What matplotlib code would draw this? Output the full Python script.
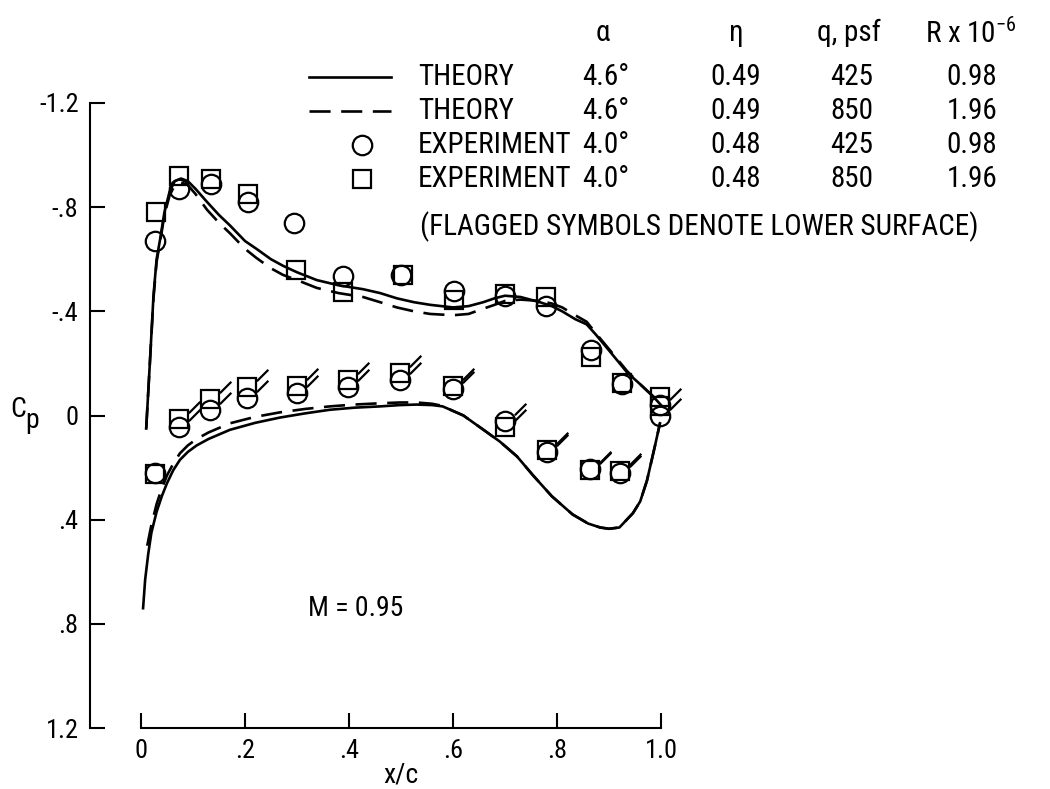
import matplotlib
matplotlib.use("Agg")
import matplotlib.pyplot as plt
from matplotlib import font_manager
from matplotlib.lines import Line2D
from matplotlib.path import Path

# --- dati ---
# teoria, superficie superiore
x_th_up = [0.010, 0.017, 0.024, 0.030, 0.037, 0.045, 0.055, 0.065, 0.077, 0.090, 0.105,
           0.127, 0.150, 0.171, 0.200, 0.222, 0.250, 0.273, 0.300, 0.338, 0.380, 0.427,
           0.460, 0.492, 0.525, 0.556, 0.600, 0.630, 0.658, 0.680, 0.700, 0.730, 0.767,
           0.790, 0.810, 0.835, 0.857, 0.875, 0.900, 0.935, 0.960, 0.985, 1.000]
cp_th_up_425 = [0.05, -0.20, -0.46, -0.60, -0.68, -0.78, -0.86, -0.90, -0.91, -0.90, -0.87,
                -0.82, -0.77, -0.73, -0.67, -0.64, -0.60, -0.575, -0.55, -0.52, -0.50, -0.485,
                -0.47, -0.45, -0.435, -0.425, -0.415, -0.42, -0.435, -0.45, -0.46, -0.455, -0.435,
                -0.42, -0.40, -0.37, -0.35, -0.31, -0.25, -0.165, -0.12, -0.073, -0.04]
cp_th_up_850 = [0.05, -0.20, -0.45, -0.59, -0.67, -0.77, -0.845, -0.885, -0.895, -0.885, -0.85,
                -0.79, -0.74, -0.70, -0.64, -0.605, -0.565, -0.54, -0.52, -0.49, -0.47, -0.455,
                -0.435, -0.415, -0.40, -0.39, -0.385, -0.39, -0.41, -0.425, -0.44, -0.445, -0.44,
                -0.43, -0.415, -0.385, -0.36, -0.315, -0.255, -0.17, -0.12, -0.073, -0.04]

# teoria, superficie inferiore
x_th_lo_425 = [0.004, 0.008, 0.014, 0.020, 0.030, 0.040, 0.050, 0.062, 0.075, 0.090, 0.107,
               0.130, 0.171, 0.220, 0.267, 0.315, 0.363, 0.410, 0.460, 0.498, 0.530, 0.560,
               0.580, 0.594, 0.620, 0.658, 0.690, 0.723, 0.754, 0.790, 0.830, 0.860, 0.883,
               0.900, 0.920, 0.946, 0.960, 0.973, 0.988, 0.998]
cp_th_lo_425 = [0.74, 0.63, 0.53, 0.45, 0.37, 0.31, 0.26, 0.21, 0.17, 0.14, 0.115,
                0.09, 0.055, 0.028, 0.008, -0.008, -0.022, -0.03, -0.035, -0.04, -0.042, -0.04,
                -0.035, -0.023, 0.0, 0.054, 0.10, 0.157, 0.23, 0.31, 0.38, 0.415, 0.43,
                0.435, 0.43, 0.375, 0.33, 0.25, 0.12, 0.03]
x_th_lo_850 = [0.012, 0.020, 0.030, 0.040, 0.050, 0.062, 0.075, 0.090, 0.107, 0.130, 0.171,
               0.220, 0.267, 0.315, 0.363, 0.410, 0.460, 0.498, 0.530, 0.560, 0.580, 0.594,
               0.620, 0.658, 0.690, 0.723, 0.754, 0.790, 0.830, 0.860, 0.883, 0.900, 0.920,
               0.946, 0.960, 0.973, 0.988, 0.998]
cp_th_lo_850 = [0.50, 0.42, 0.34, 0.28, 0.23, 0.185, 0.145, 0.115, 0.09, 0.065, 0.03,
                0.005, -0.012, -0.025, -0.035, -0.042, -0.047, -0.05, -0.05, -0.045, -0.037, -0.023,
                0.0, 0.054, 0.10, 0.157, 0.23, 0.31, 0.38, 0.415, 0.43, 0.435, 0.43,
                0.375, 0.33, 0.25, 0.12, 0.03]

# esperimento, superficie superiore
x_exp_up_o = [0.027, 0.073, 0.135, 0.206, 0.294, 0.389, 0.500, 0.602, 0.700, 0.779, 0.865, 0.925, 0.998]
cp_exp_up_o = [-0.67, -0.87, -0.89, -0.82, -0.74, -0.535, -0.54, -0.48, -0.46, -0.42, -0.25, -0.12, -0.04]
x_exp_up_s = [0.029, 0.073, 0.135, 0.206, 0.298, 0.389, 0.504, 0.602, 0.700, 0.779, 0.865, 0.925, 0.998]
cp_exp_up_s = [-0.78, -0.92, -0.91, -0.85, -0.56, -0.475, -0.54, -0.445, -0.465, -0.455, -0.225, -0.125, -0.07]

# esperimento, superficie inferiore (simboli con bandierina)
x_exp_lo = [0.027, 0.073, 0.133, 0.204, 0.300, 0.399, 0.498, 0.600, 0.700, 0.780, 0.863, 0.921, 0.998]
cp_exp_lo_o = [0.22, 0.046, -0.023, -0.069, -0.088, -0.108, -0.138, -0.10, 0.02, 0.14, 0.205, 0.22, 0.0]
cp_exp_lo_s = [0.225, 0.015, -0.062, -0.108, -0.112, -0.138, -0.165, -0.112, 0.046, 0.131, 0.208, 0.215, -0.035]

x_ticks = [0, 0.2, 0.4, 0.6, 0.8, 1.0]
x_ticklabels = ['0', '.2', '.4', '.6', '.8', '1.0']
y_ticks = [-1.2, -0.8, -0.4, 0, 0.4, 0.8, 1.2]
y_ticklabels = ['-1.2', '-.8', '-.4', '0', '.4', '.8', '1.2']

legend_rows = [
    ('THEORY', '4.6°', '0.49', '425', '0.98'),
    ('THEORY', '4.6°', '0.49', '850', '1.96'),
    ('EXPERIMENT', '4.0°', '0.48', '425', '0.98'),
    ('EXPERIMENT', '4.0°', '0.48', '850', '1.96'),
]

# --- font stretto se disponibile ---
names = {f.name for f in font_manager.fontManager.ttflist}
fam = 'DejaVu Sans'
for cand in ['Liberation Sans Narrow', 'Roboto Condensed', 'Liberation Sans']:
    if cand in names:
        fam = cand
        break
plt.rcParams['font.family'] = [fam, 'DejaVu Sans']
plt.rcParams['mathtext.fontset'] = 'custom'
plt.rcParams['mathtext.rm'] = fam

W, H = 1050, 789
def fx(px):
    return px / W
def fy(py):
    return 1 - py / H

fig = plt.figure(figsize=(10.5, 7.89), dpi=100)
ax = fig.add_axes([fx(141), fy(728), fx(661) - fx(141), fy(103) - fy(728)])
ax.set_xlim(0, 1)
ax.set_ylim(1.2, -1.2)

lw = 1.9
ax.plot(x_th_up, cp_th_up_425, color='black', lw=lw, clip_on=False)
ax.plot(x_th_lo_425, cp_th_lo_425, color='black', lw=lw, clip_on=False)
ax.plot(x_th_up, cp_th_up_850, color='black', lw=lw, dashes=(8, 4), clip_on=False)
ax.plot(x_th_lo_850, cp_th_lo_850, color='black', lw=lw, dashes=(8, 4), clip_on=False)

mk = dict(ls='none', mfc='none', mec='black', mew=1.6, clip_on=False)
ax.plot(x_exp_up_s, cp_exp_up_s, marker='s', ms=12.5, **mk)
ax.plot(x_exp_up_o, cp_exp_up_o, marker='o', ms=14, **mk)
ax.plot(x_exp_lo, cp_exp_lo_s, marker='s', ms=12.5, **mk)
ax.plot(x_exp_lo, cp_exp_lo_o, marker='o', ms=14, **mk)

# bandierine sui punti della superficie inferiore
flag = Path([(-1, -1), (0.45, 0.3), (1.0, 0.85)], [Path.MOVETO, Path.MOVETO, Path.LINETO])
ax.plot(x_exp_lo[1:], cp_exp_lo_s[1:], ls='none', marker=flag, ms=30, mec='black', mew=1.6, clip_on=False)
ax.plot(x_exp_lo[1:], cp_exp_lo_o[1:], ls='none', marker=flag, ms=30, mec='black', mew=1.6, clip_on=False)

# assi in stile NASA
for s in ['top', 'right']:
    ax.spines[s].set_visible(False)
ax.spines['left'].set_position(('outward', 37))
ax.spines['left'].set_bounds(-1.2, 1.2)
ax.spines['bottom'].set_bounds(0, 1)
ax.spines['left'].set_linewidth(1.5)
ax.spines['bottom'].set_linewidth(1.5)
ax.set_xticks(x_ticks)
ax.set_xticklabels(x_ticklabels)
ax.set_yticks(y_ticks)
ax.set_yticklabels(y_ticklabels)
ax.tick_params(direction='in', length=11, width=1.5, labelsize=19, pad=8)

fs = 21
fig.text(fx(401), fy(783), 'x/c', ha='center', va='baseline', fontsize=20)
fig.text(fx(10), fy(417), 'C', ha='left', va='baseline', fontsize=20)
fig.text(fx(25), fy(428), 'p', ha='left', va='baseline', fontsize=20)
fig.text(fx(356), fy(608), 'M = 0.95', ha='center', va='center', fontsize=20)

# legenda costruita a mano
hdr_y = 33
row_y = [77, 111, 145, 179]
fig.text(fx(603), fy(hdr_y), 'α', ha='center', va='center', fontsize=fs)
fig.text(fx(736), fy(hdr_y), 'η', ha='center', va='center', fontsize=fs)
fig.text(fx(849), fy(hdr_y), 'q, psf', ha='center', va='center', fontsize=fs)
fig.text(fx(971), fy(hdr_y), r'R x 10$^{\mathregular{-6}}$', ha='center', va='center', fontsize=fs)
for i, (name, a, eta, q, r) in enumerate(legend_rows):
    y = fy(row_y[i])
    if i == 0:
        fig.add_artist(Line2D([fx(309), fx(391)], [y, y], color='black', lw=lw))
    elif i == 1:
        fig.add_artist(Line2D([fx(309), fx(391)], [y, y], color='black', lw=lw, dashes=(8, 4)))
    elif i == 2:
        fig.add_artist(Line2D([fx(362)], [y], marker='o', ms=14, mfc='none', mec='black', mew=1.6))
    else:
        fig.add_artist(Line2D([fx(362)], [y], marker='s', ms=12.5, mfc='none', mec='black', mew=1.6))
    fig.text(fx(418), y, name, ha='left', va='center', fontsize=fs)
    fig.text(fx(582), y, a, ha='left', va='center', fontsize=fs)
    fig.text(fx(736), y, eta, ha='center', va='center', fontsize=fs)
    fig.text(fx(852), y, q, ha='center', va='center', fontsize=fs)
    fig.text(fx(972), y, r, ha='center', va='center', fontsize=fs)
fig.text(fx(420), fy(227), '(FLAGGED SYMBOLS DENOTE LOWER SURFACE)', ha='left', va='center', fontsize=fs)

fig.savefig('out.png', dpi=100)
